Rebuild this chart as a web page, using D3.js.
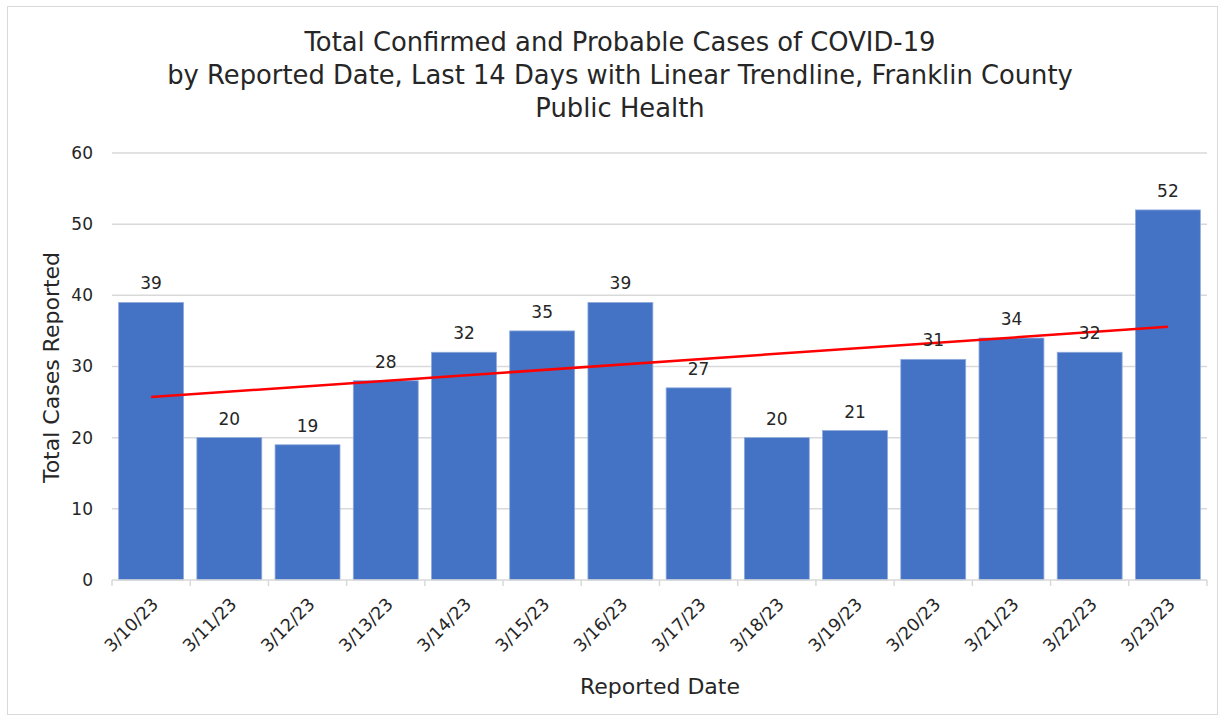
<!DOCTYPE html>
<html>
<head>
<meta charset="utf-8">
<script src="https://cdn.jsdelivr.net/npm/d3@7"></script>
<style>
  body { margin: 0; background: #fff; }
  svg text { font-family: "DejaVu Sans", sans-serif; fill: #262626; }
</style>
</head>
<body>
<div id="chart"></div>
<script>
const dates = ['3/10/23', '3/11/23', '3/12/23', '3/13/23', '3/14/23', '3/15/23', '3/16/23',
  '3/17/23', '3/18/23', '3/19/23', '3/20/23', '3/21/23', '3/22/23', '3/23/23'];
const cases = [39, 20, 19, 28, 32, 35, 39, 27, 20, 21, 31, 34, 32, 52];
const yTicks = [0, 10, 20, 30, 40, 50, 60];
const titleLines = ['Total Confirmed and Probable Cases of COVID-19',
  'by Reported Date, Last 14 Days with Linear Trendline, Franklin County',
  'Public Health'];

const width = 1225;
const height = 721;
const margin = { top: 153, right: 18, bottom: 141, left: 112 };

const svg = d3.select('#chart').append('svg')
  .attr('width', width)
  .attr('height', height);

// outer frame
svg.append('rect')
  .attr('x', 7.5).attr('y', 6.5)
  .attr('width', width - 15).attr('height', height - 13)
  .attr('fill', 'none').attr('stroke', '#d9d9d9');

const x = d3.scaleBand()
  .domain(dates)
  .range([margin.left, width - margin.right])
  .paddingInner(0.17)
  .paddingOuter(0.085);

const y = d3.scaleLinear()
  .domain([0, 60])
  .range([height - margin.bottom, margin.top]);

// gridlines
svg.append('g')
  .selectAll('line')
  .data(yTicks.filter(d => d > 0))
  .join('line')
  .attr('x1', margin.left).attr('x2', width - margin.right)
  .attr('y1', d => y(d)).attr('y2', d => y(d))
  .attr('stroke', '#d9d9d9').attr('stroke-width', 1.5);

// y tick labels
svg.append('g')
  .selectAll('text')
  .data(yTicks)
  .join('text')
  .attr('x', margin.left - 19)
  .attr('y', d => y(d))
  .attr('dy', '0.35em')
  .attr('text-anchor', 'end')
  .style('font-size', '17px')
  .text(d => d);

// bars
svg.append('g')
  .selectAll('rect')
  .data(cases)
  .join('rect')
  .attr('x', (d, i) => x(dates[i]))
  .attr('y', d => y(d))
  .attr('width', x.bandwidth())
  .attr('height', d => y(0) - y(d))
  .attr('fill', '#4472c4')
  .attr('stroke', '#8faadc')
  .attr('stroke-width', 0.8);

// x axis baseline and ticks
const x0 = margin.left;
const x1 = width - margin.right;
svg.append('line')
  .attr('x1', x0).attr('x2', x1)
  .attr('y1', y(0)).attr('y2', y(0))
  .attr('stroke', '#d9d9d9').attr('stroke-width', 1.5);
svg.append('g')
  .selectAll('line')
  .data(d3.range(dates.length + 1))
  .join('line')
  .attr('x1', i => x0 + i * (x1 - x0) / dates.length)
  .attr('x2', i => x0 + i * (x1 - x0) / dates.length)
  .attr('y1', y(0)).attr('y2', y(0) + 6)
  .attr('stroke', '#d9d9d9').attr('stroke-width', 1.5);

// x tick labels
svg.append('g')
  .selectAll('text')
  .data(dates)
  .join('text')
  .attr('transform', d => `translate(${x(d) + x.bandwidth() / 2 + 4},${y(0) + 21}) rotate(-45)`)
  .attr('text-anchor', 'end')
  .attr('dy', '0.35em')
  .style('font-size', '17.5px')
  .text(d => d);

// linear trendline (least squares over the data)
const n = cases.length;
const xs = d3.range(1, n + 1);
const mx = d3.mean(xs);
const my = d3.mean(cases);
const slope = d3.sum(xs, (v, i) => (v - mx) * (cases[i] - my)) / d3.sum(xs, v => (v - mx) ** 2);
const icpt = my - slope * mx;
svg.append('line')
  .attr('x1', x(dates[0]) + x.bandwidth() / 2)
  .attr('x2', x(dates[n - 1]) + x.bandwidth() / 2)
  .attr('y1', y(icpt + slope * 1))
  .attr('y2', y(icpt + slope * n))
  .attr('stroke', '#ff0000').attr('stroke-width', 2.5);

// data labels
svg.append('g')
  .selectAll('text')
  .data(cases)
  .join('text')
  .attr('x', (d, i) => x(dates[i]) + x.bandwidth() / 2)
  .attr('y', d => y(d) - 13)
  .attr('text-anchor', 'middle')
  .style('font-size', '17px')
  .text(d => d);

// title
svg.append('g')
  .selectAll('text')
  .data(titleLines)
  .join('text')
  .attr('x', 620)
  .attr('y', (d, i) => 51 + i * 33)
  .attr('text-anchor', 'middle')
  .style('font-size', '25.8px')
  .text(d => d);

// axis titles
svg.append('text')
  .attr('transform', `translate(59,${(y(0) + y(60)) / 2 + 1}) rotate(-90)`)
  .attr('text-anchor', 'middle')
  .style('font-size', '22px')
  .text('Total Cases Reported');

svg.append('text')
  .attr('x', 660)
  .attr('y', 694)
  .attr('text-anchor', 'middle')
  .style('font-size', '22px')
  .text('Reported Date');
</script>
</body>
</html>
